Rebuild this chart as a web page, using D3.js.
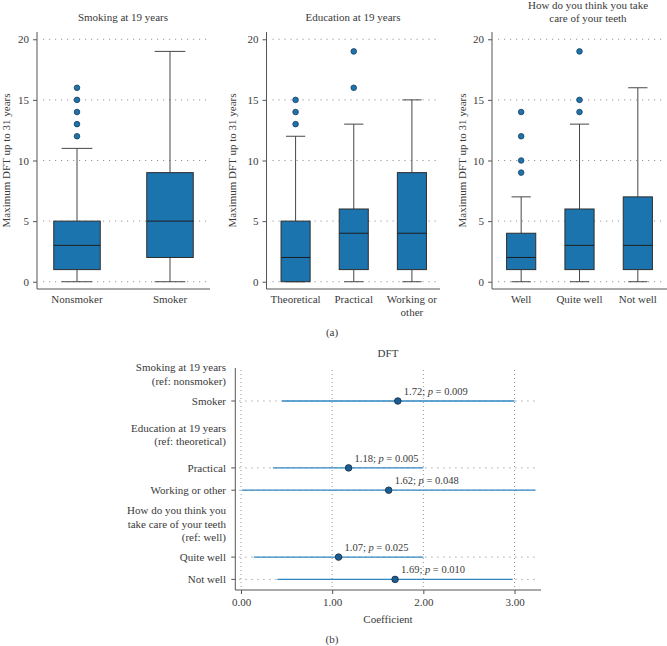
<!DOCTYPE html>
<html>
<head>
<meta charset="utf-8">
<script src="https://cdn.jsdelivr.net/npm/d3@7"></script>
<style>
  body { margin: 0; background: #fff; }
  text { font-family: "Liberation Serif", "DejaVu Serif", serif; fill: #3a3a3a; }
</style>
</head>
<body>
<script>
const width = 667, height = 646;

// (a) box plots: [min, q1, median, q3, max] + outliers
const smokeCats = ["Nonsmoker", "Smoker"];
const smokeStats = [[0, 1, 3, 5, 11], [0, 2, 5, 9, 19]];
const smokeOut = [[12, 13, 14, 15, 16], []];

const eduCats = ["Theoretical", "Practical", "Working or other"];
const eduStats = [[0, 0, 2, 5, 12], [0, 1, 4, 6, 13], [0, 1, 4, 9, 15]];
const eduOut = [[13, 14, 15], [16, 19], []];

const careCats = ["Well", "Quite well", "Not well"];
const careStats = [[0, 1, 2, 4, 7], [0, 1, 3, 6, 13], [0, 1, 3, 7, 16]];
const careOut = [[9, 10, 12, 14], [14, 15, 19], []];

const yTicks = [0, 5, 10, 15, 20];

// (b) coefficient plot
const terms = ["Smoker", "Practical", "Working or other", "Quite well", "Not well"];
const coef = [1.72, 1.18, 1.62, 1.07, 1.69];
const ciLow = [0.45, 0.35, 0.01, 0.14, 0.40];
const ciHigh = [3.00, 2.00, 3.23, 2.00, 2.98];
const pVals = ["0.009", "0.005", "0.048", "0.025", "0.010"];
const termRows = [0, 3, 4, 7, 8];
const headers = [
  ["Smoking at 19 years", "(ref: nonsmoker)"],
  ["Education at 19 years", "(ref: theoretical)"],
  ["How do you think you", "take care of your teeth", "(ref: well)"]
];
const headerRows = [-1.2, 1.5, 5.5];
const xTicksB = [0, 1, 2, 3];

const boxFill = "#1b74ae", dark = "#2e2e2e", gridC = "#8a8a8a";
const fs = 11;

const svg = d3.select("body").append("svg")
  .attr("width", width)
  .attr("height", height);

const y = d3.scaleLinear().domain([-0.6, 20.6]).range([289, 32]);

function panel(opts) {
  const g = svg.append("g");
  const x = d3.scaleBand().domain(opts.cats).range(opts.band).padding(0);
  const bw = x.bandwidth() * 0.5;
  const cw = bw * 0.66;

  // title
  opts.title.forEach((t, i) => {
    g.append("text").attr("x", opts.titleX).attr("y", opts.titleY + i * 12.5)
      .attr("text-anchor", "middle").attr("font-size", fs).text(t);
  });

  // grid
  g.selectAll(".grid").data(yTicks).enter().append("line")
    .attr("x1", opts.axisX + 6).attr("x2", opts.axisEnd - 3)
    .attr("y1", d => y(d)).attr("y2", d => y(d))
    .attr("stroke", gridC).attr("stroke-width", 0.9)
    .attr("stroke-dasharray", "1.2,4.8");

  // y axis
  const ya = g.append("g").attr("transform", `translate(${opts.axisX},0)`)
    .call(d3.axisLeft(y).tickValues(yTicks).tickSize(4).tickPadding(4));
  ya.select(".domain").remove();
  ya.selectAll(".tick line").attr("stroke", "#555");
  ya.selectAll("text").attr("font-size", fs).attr("fill", "#3a3a3a")
    .attr("font-family", "Liberation Serif");

  g.append("line").attr("x1", opts.axisX).attr("x2", opts.axisX)
    .attr("y1", 32).attr("y2", 289).attr("stroke", "#555");
  g.append("line").attr("x1", opts.axisX).attr("x2", opts.axisEnd)
    .attr("y1", 289).attr("y2", 289).attr("stroke", "#555");

  // y label
  g.append("text")
    .attr("transform", `translate(${opts.labX},${(y(0) + y(20)) / 2}) rotate(-90)`)
    .attr("text-anchor", "middle").attr("font-size", fs)
    .text("Maximum DFT up to 31 years");

  opts.cats.forEach((c, i) => {
    const s = opts.stats[i];
    const cx = x(c) + x.bandwidth() / 2;
    // whiskers
    g.append("line").attr("x1", cx).attr("x2", cx).attr("y1", y(s[0])).attr("y2", y(s[1]))
      .attr("stroke", "#474747");
    g.append("line").attr("x1", cx).attr("x2", cx).attr("y1", y(s[3])).attr("y2", y(s[4]))
      .attr("stroke", "#474747");
    [s[0], s[4]].forEach(v => {
      g.append("line").attr("x1", cx - cw / 2).attr("x2", cx + cw / 2)
        .attr("y1", y(v)).attr("y2", y(v)).attr("stroke", "#474747");
    });
    // box
    g.append("rect").attr("x", cx - bw / 2).attr("width", bw)
      .attr("y", y(s[3])).attr("height", y(s[1]) - y(s[3]))
      .attr("fill", boxFill).attr("stroke", dark).attr("stroke-width", 1);
    g.append("line").attr("x1", cx - bw / 2).attr("x2", cx + bw / 2)
      .attr("y1", y(s[2])).attr("y2", y(s[2])).attr("stroke", "#1e1e1e").attr("stroke-width", 1);
    // outliers
    g.selectAll(null).data(opts.outs[i]).enter().append("circle")
      .attr("cx", cx).attr("cy", d => y(d)).attr("r", 2.8)
      .attr("fill", boxFill).attr("stroke", "#1d3d5a").attr("stroke-width", 0.8);
    // category label
    const words = c.length > 12 ? [c.slice(0, c.lastIndexOf(" ")), c.slice(c.lastIndexOf(" ") + 1)] : [c];
    words.forEach((w, k) => {
      g.append("text").attr("x", cx).attr("y", 303 + k * 12.5)
        .attr("text-anchor", "middle").attr("font-size", fs).text(w);
    });
  });
}

panel({ cats: smokeCats, stats: smokeStats, outs: smokeOut, band: [30.5, 216.5],
  axisX: 37, axisEnd: 210, title: ["Smoking at 19 years"], titleX: 123, titleY: 21, labX: 10 });
panel({ cats: eduCats, stats: eduStats, outs: eduOut, band: [266.5, 441],
  axisX: 266.5, axisEnd: 440, title: ["Education at 19 years"], titleX: 353, titleY: 21, labX: 236 });
panel({ cats: careCats, stats: careStats, outs: careOut, band: [492, 667],
  axisX: 492, axisEnd: 667, title: ["How do you think you take", "care of your teeth"], titleX: 588, titleY: 9, labX: 466 });

svg.append("text").attr("x", 332).attr("y", 336).attr("text-anchor", "middle")
  .attr("font-size", fs).text("(a)");

// (b) coefficient plot
const xb = d3.scaleLinear().domain([0, 3]).range([241, 514.5]);
const yb = d3.scaleLinear().domain([0, 8]).range([401, 579.4]);
const bx0 = 235.3, bx1 = 541, by0 = 368, by1 = 590;
const gb = svg.append("g");

gb.append("text").attr("x", 388).attr("y", 357).attr("text-anchor", "middle")
  .attr("font-size", fs).text("DFT");

// vertical grid
gb.selectAll(".vg").data(xTicksB).enter().append("line")
  .attr("x1", d => xb(d)).attr("x2", d => xb(d)).attr("y1", by0 + 2).attr("y2", by1)
  .attr("stroke", gridC).attr("stroke-width", 0.9).attr("stroke-dasharray", "1,3");
// horizontal grid at term rows
gb.selectAll(".hg").data(termRows).enter().append("line")
  .attr("x1", bx0 + 4).attr("x2", bx1 - 2).attr("y1", d => yb(d)).attr("y2", d => yb(d))
  .attr("stroke", gridC).attr("stroke-width", 0.9).attr("stroke-dasharray", "1.2,4.8");

// axes
gb.append("line").attr("x1", bx0).attr("x2", bx0).attr("y1", by0).attr("y2", by1).attr("stroke", "#555");
gb.append("line").attr("x1", bx0).attr("x2", bx1).attr("y1", by1).attr("y2", by1).attr("stroke", "#555");

const xa = gb.append("g").attr("transform", `translate(0,${by1})`)
  .call(d3.axisBottom(xb).tickValues(xTicksB).tickFormat(d3.format(".2f")).tickSize(4).tickPadding(4));
xa.select(".domain").remove();
xa.selectAll(".tick line").attr("stroke", "#555");
xa.selectAll("text").attr("font-size", fs).attr("fill", "#3a3a3a").attr("font-family", "Liberation Serif");

gb.append("text").attr("x", 388).attr("y", 623).attr("text-anchor", "middle")
  .attr("font-size", fs).text("Coefficient");
svg.append("text").attr("x", 332).attr("y", 643).attr("text-anchor", "middle")
  .attr("font-size", fs).text("(b)");

// term labels and ticks
terms.forEach((t, i) => {
  const yy = yb(termRows[i]);
  gb.append("line").attr("x1", bx0 - 4).attr("x2", bx0).attr("y1", yy).attr("y2", yy).attr("stroke", "#555");
  gb.append("text").attr("x", 226).attr("y", yy).attr("dy", "0.35em")
    .attr("text-anchor", "end").attr("font-size", fs).text(t);
});
headers.forEach((lines, i) => {
  const c = yb(headerRows[i]);
  const top = c - (lines.length - 1) * 13.3 / 2;
  lines.forEach((l, k) => {
    gb.append("text").attr("x", 226).attr("y", top + k * 13.3).attr("dy", "0.35em")
      .attr("text-anchor", "end").attr("font-size", fs).text(l);
  });
});

// CIs, points, annotations
terms.forEach((t, i) => {
  const yy = yb(termRows[i]);
  gb.append("line").attr("x1", xb(ciLow[i])).attr("x2", xb(ciHigh[i]))
    .attr("y1", yy).attr("y2", yy).attr("stroke", "#2f87c3").attr("stroke-width", 1.3);
  gb.append("circle").attr("cx", xb(coef[i])).attr("cy", yy).attr("r", 3.3)
    .attr("fill", "#1a5e93").attr("stroke", "#1b2b3a").attr("stroke-width", 0.8);
  const tx = gb.append("text").attr("x", xb(coef[i]) + 6).attr("y", yy - 6)
    .attr("font-size", 10.5);
  tx.append("tspan").text(coef[i].toFixed(2) + "; ");
  tx.append("tspan").attr("font-style", "italic").text("p");
  tx.append("tspan").text(" = " + pVals[i]);
});
</script>
</body>
</html>
